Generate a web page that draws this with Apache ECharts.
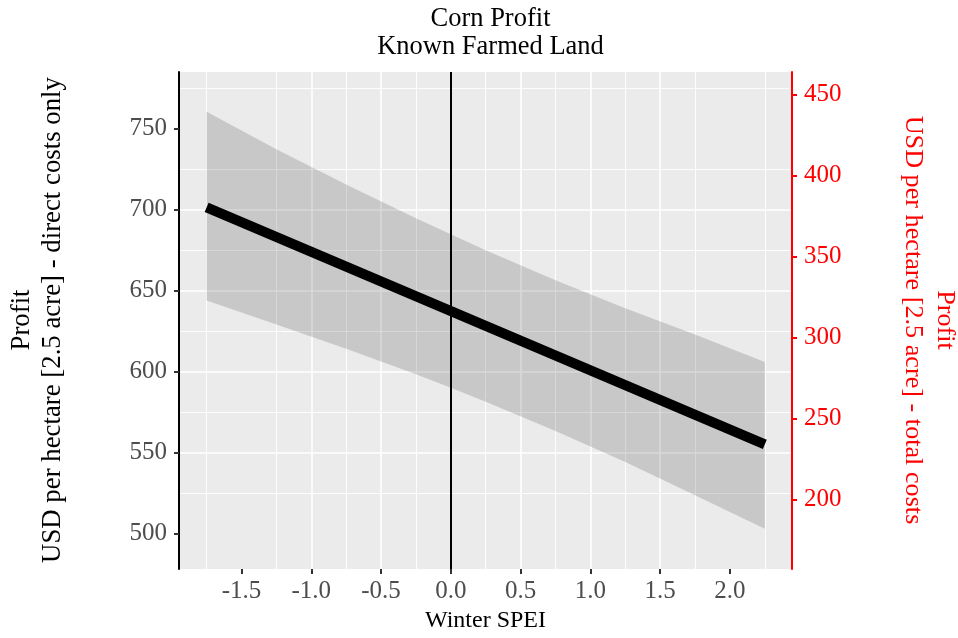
<!DOCTYPE html>
<html>
<head>
<meta charset="utf-8">
<script src="https://cdn.jsdelivr.net/npm/echarts@6/dist/echarts.min.js"></script>
<style>
html,body{margin:0;padding:0;background:#fff;}
#chart{width:958px;height:638px;}
</style>
</head>
<body>
<div id="chart"></div>
<script>
// ---- data ----
var fitX = [-1.75, 2.25];
var fitY = [701.5, 555.0];
var bandX = [-1.75, -1.25, -0.75, -0.25, 0.0, 0.25, 0.75, 1.25, 1.75, 2.25];
var bandUpper = [760.5, 737.3, 715.6, 694.8, 684.8, 675.0, 656.5, 639.1, 622.9, 606.0];
var bandLower = [644.0, 629.1, 614.2, 598.4, 590.0, 581.4, 563.3, 544.1, 523.7, 503.0];
var refLineX = [0];
var xTicks = [-1.5, -1.0, -0.5, 0.0, 0.5, 1.0, 1.5, 2.0];
var xTickLabels = ['-1.5', '-1.0', '-0.5', '0.0', '0.5', '1.0', '1.5', '2.0'];
var yLeftTicks = [500, 550, 600, 650, 700, 750];
var yRightTicks = [200, 250, 300, 350, 400, 450];
var xRange = [-1.948, 2.445];
var yLeftRange = [478.0, 785.1];
var yRightRange = [157.0, 464.1];

var FONT = 'Liberation Serif';

var fitData = fitX.map(function (x, i) { return [x, fitY[i]]; });
var bandData = bandX.map(function (x, i) { return [x, bandLower[i], bandUpper[i]]; });

var chart = echarts.init(document.getElementById('chart'), null, {renderer: 'canvas'});

var option = {
  backgroundColor: '#ffffff',
  animation: false,
  title: {
    text: 'Corn Profit\nKnown Farmed Land',
    left: 485.5,
    top: 0,
    textAlign: 'center',
    textStyle: {fontFamily: FONT, fontSize: 26.5, fontWeight: 'normal', color: '#000', lineHeight: 28}
  },
  grid: {
    left: 179, right: 166, top: 72, bottom: 65.3,
    show: true, backgroundColor: '#EBEBEB', borderWidth: 0, containLabel: false
  },
  xAxis: {
    type: 'value',
    min: xRange[0], max: xRange[1],
    minInterval: 0.5, maxInterval: 0.5,
    name: 'Winter SPEI',
    nameLocation: 'middle',
    nameGap: 35,
    nameTextStyle: {fontFamily: FONT, fontSize: 24, color: '#000'},
    axisLine: {show: false},
    axisTick: {show: true, length: 5, customValues: xTicks, lineStyle: {color: '#333', width: 2}},
    minorTick: {show: false, splitNumber: 2},
    axisLabel: {
      customValues: xTicks,
      margin: 10,
      fontFamily: FONT, fontSize: 25, color: '#4D4D4D',
      formatter: function (v) {
        for (var i = 0; i < xTicks.length; i++) { if (Math.abs(xTicks[i] - v) < 1e-9) return xTickLabels[i]; }
        return '';
      }
    },
    splitLine: {show: true, showMinLine: false, showMaxLine: false, lineStyle: {color: '#ffffff', width: 1.6}},
    minorSplitLine: {show: true, lineStyle: {color: '#ffffff', width: 0.9}}
  },
  yAxis: [
    {
      type: 'value',
      position: 'left',
      min: yLeftRange[0], max: yLeftRange[1],
      minInterval: 50, maxInterval: 50,
      axisLine: {show: true, onZero: false, lineStyle: {color: '#000', width: 2}},
      axisTick: {show: true, length: 5, customValues: yLeftTicks, lineStyle: {color: '#333', width: 2}},
      minorTick: {show: false, splitNumber: 2},
      axisLabel: {customValues: yLeftTicks, margin: 12, fontFamily: FONT, fontSize: 25, color: '#4D4D4D'},
      splitLine: {show: true, showMinLine: false, showMaxLine: false, lineStyle: {color: '#ffffff', width: 1.6}},
      minorSplitLine: {show: true, lineStyle: {color: '#ffffff', width: 0.9}}
    },
    {
      type: 'value',
      position: 'right',
      min: yRightRange[0], max: yRightRange[1],
      minInterval: 50, maxInterval: 50,
      axisLine: {show: true, onZero: false, lineStyle: {color: '#FF0000', width: 2}},
      axisTick: {show: true, length: 5, customValues: yRightTicks, lineStyle: {color: '#FF0000', width: 2}},
      axisLabel: {customValues: yRightTicks, margin: 12, fontFamily: FONT, fontSize: 25, color: '#FF0000'},
      splitLine: {show: false}
    }
  ],
  graphic: [
    {
      type: 'text', x: 37, y: 320, rotation: Math.PI / 2, silent: true,
      style: {
        text: 'Profit\nUSD per hectare [2.5 acre] - direct costs only',
        font: '26.8px "Liberation Serif"', fill: '#000',
        textAlign: 'center', textVerticalAlign: 'middle', lineHeight: 31
      }
    },
    {
      type: 'text', x: 929, y: 320, rotation: -Math.PI / 2, silent: true,
      style: {
        text: 'Profit\nUSD per hectare [2.5 acre] - total costs',
        font: '26.2px "Liberation Serif"', fill: '#FF0000',
        textAlign: 'center', textVerticalAlign: 'middle', lineHeight: 32
      }
    }
  ],
  series: [
    {
      type: 'custom',
      name: 'band',
      xAxisIndex: 0, yAxisIndex: 0,
      clip: true,
      z: 2,
      silent: true,
      data: bandData,
      encode: {x: 0, y: [1, 2]},
      renderItem: function (params, api) {
        if (params.dataIndex !== 0) return null;
        var pts = [];
        for (var i = 0; i < bandData.length; i++) pts.push(api.coord([bandData[i][0], bandData[i][2]]));
        for (var j = bandData.length - 1; j >= 0; j--) pts.push(api.coord([bandData[j][0], bandData[j][1]]));
        return {type: 'polygon', shape: {points: pts}, style: {fill: 'rgba(0,0,0,0.15)', stroke: null}};
      }
    },
    {
      type: 'line',
      name: 'fit',
      xAxisIndex: 0, yAxisIndex: 0,
      data: fitData,
      showSymbol: false,
      symbol: 'none',
      z: 4,
      silent: true,
      lineStyle: {color: '#000', width: 10, cap: 'butt'},
      markLine: {
        silent: true,
        symbol: ['none', 'none'],
        label: {show: false},
        lineStyle: {color: '#000', width: 2, type: 'solid'},
        data: refLineX.map(function (v) { return {xAxis: v}; })
      }
    }
  ]
};
chart.setOption(option);
</script>
</body>
</html>
